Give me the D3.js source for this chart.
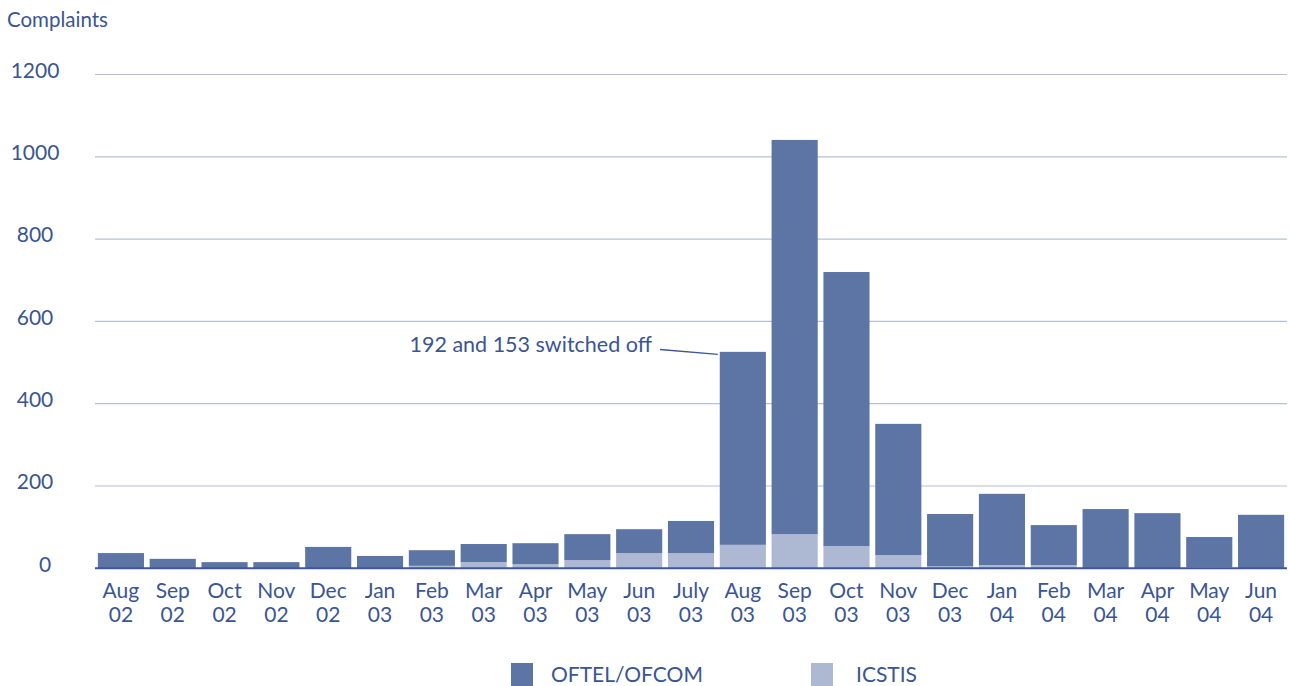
<!DOCTYPE html>
<html>
<head>
<meta charset="utf-8">
<script src="https://cdn.jsdelivr.net/npm/d3@7"></script>
<style>
  html, body { margin: 0; padding: 0; background: #fff; }
  svg text { font-family: Lato, "Open Sans", sans-serif; fill: #3b5591; }
</style>
</head>
<body>
<svg id="chart" width="1290" height="686"></svg>
<script>
// Monthly complaints, Aug 2002 – Jun 2004
const months = ["Aug", "Sep", "Oct", "Nov", "Dec", "Jan", "Feb", "Mar", "Apr", "May", "Jun", "July",
                "Aug", "Sep", "Oct", "Nov", "Dec", "Jan", "Feb", "Mar", "Apr", "May", "Jun"];
const years  = ["02", "02", "02", "02", "02", "03", "03", "03", "03", "03", "03", "03",
                "03", "03", "03", "03", "03", "04", "04", "04", "04", "04", "04"];
// Totals (top of each stacked bar)
const totals = [37, 23, 15, 15, 52, 30, 44, 59, 61, 83, 95, 115,
                526, 1041, 720, 351, 132, 181, 105, 144, 134, 76, 130];
// ICSTIS portion (lower segment)
const icstis = [0, 0, 0, 0, 0, 0, 6, 15, 10, 20, 37, 37,
                57, 83, 54, 32, 5, 8, 8, 0, 0, 3, 0];
const yTicks = [0, 200, 400, 600, 800, 1000, 1200];
const seriesNames = ["OFTEL/OFCOM", "ICSTIS"];
const seriesColors = ["#5d75a4", "#adb9d3"];
const note = "192 and 153 switched off";
const noteIndex = 12;

(function draw() {
  const svg = d3.select("#chart");
  const plotLeft = 95, plotRight = 1287, plotTop = 74.5, plotBottom = 568.3;

  const keys = months.map((m, i) => m + " " + years[i]);
  const x = d3.scaleBand().domain(keys).range([plotLeft, plotRight]).paddingInner(0.11).paddingOuter(0.055);
  const y = d3.scaleLinear().domain([0, 1200]).range([plotBottom, plotTop]);

  // gridlines
  svg.append("g").selectAll("line").data(yTicks.filter(d => d > 0)).join("line")
    .attr("x1", plotLeft).attr("x2", plotRight)
    .attr("y1", d => y(d)).attr("y2", d => y(d))
    .attr("stroke", "#b7c0da").attr("stroke-width", 1.2);

  // y tick labels
  svg.append("g").selectAll("text").data(yTicks).join("text")
    .attr("x", d => d === 0 ? 45 : 35).attr("y", d => y(d) - 2)
    .attr("text-anchor", "middle").attr("dominant-baseline", "middle")
    .attr("font-size", 21).text(d => d);

  svg.append("text").attr("x", 7).attr("y", 27).attr("font-size", 20.5).text("Complaints");

  // stacked bars: ICSTIS at the bottom, OFTEL/OFCOM above
  const rows = keys.map((k, i) => ({ key: k, ICSTIS: icstis[i], "OFTEL/OFCOM": totals[i] - icstis[i] }));
  const stack = d3.stack().keys(["ICSTIS", "OFTEL/OFCOM"])(rows);
  const colorOf = d3.scaleOrdinal().domain(seriesNames).range(seriesColors);

  svg.append("g").selectAll("g").data(stack).join("g")
    .attr("fill", s => colorOf(s.key))
    .selectAll("rect").data(s => s).join("rect")
    .attr("x", d => x(d.data.key))
    .attr("width", x.bandwidth())
    .attr("y", d => y(d[1]))
    .attr("height", d => Math.max(0, y(d[0]) - y(d[1])));

  // baseline
  svg.append("line").attr("x1", plotLeft).attr("x2", plotRight)
    .attr("y1", plotBottom).attr("y2", plotBottom)
    .attr("stroke", "#3e5894").attr("stroke-width", 2);

  // x labels (two lines)
  const xl = svg.append("g").selectAll("text").data(keys).join("text")
    .attr("text-anchor", "middle").attr("font-size", 21);
  xl.append("tspan").attr("x", d => x(d) + x.bandwidth() / 2).attr("y", 598).text((d, i) => months[i]);
  xl.append("tspan").attr("x", d => x(d) + x.bandwidth() / 2).attr("y", 622).text((d, i) => years[i]);

  // annotation
  const ax = x(keys[noteIndex]);
  const ay = y(totals[noteIndex]);
  svg.append("text").attr("x", 652).attr("y", 352).attr("text-anchor", "end")
    .attr("font-size", 21.5).text(note);
  svg.append("line").attr("x1", 660).attr("y1", 349.5).attr("x2", ax - 2).attr("y2", ay + 2.5)
    .attr("stroke", "#3e5894").attr("stroke-width", 1.3);

  // legend
  const legendX = [511, 811];
  const lg = svg.append("g").selectAll("g").data(seriesNames).join("g")
    .attr("transform", (d, i) => `translate(${legendX[i]},663)`);
  lg.append("rect").attr("width", 22).attr("height", 23).attr("fill", d => colorOf(d));
  lg.append("text").attr("x", (d, i) => i === 0 ? 40 : 45).attr("y", 19).attr("font-size", 21).text(d => d);
})();
</script>
</body>
</html>
